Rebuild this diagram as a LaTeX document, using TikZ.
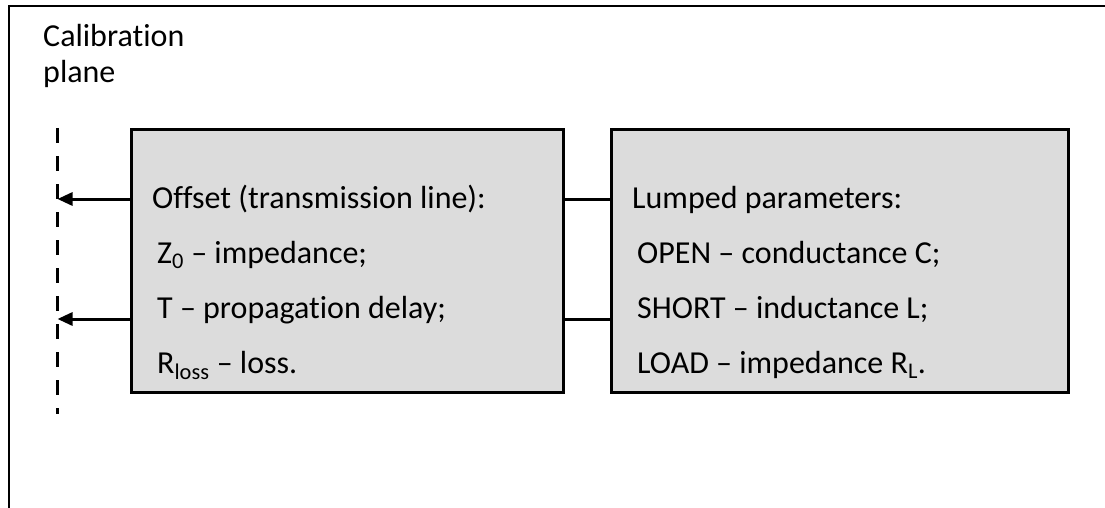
\documentclass[tikz,border=0pt]{standalone}
\usepackage{fontspec}
\setmainfont[Ligatures=NoCommon]{Carlito}
\usetikzlibrary{arrows.meta}
\definecolor{boxgray}{RGB}{220,220,220}
\begin{document}
\begin{tikzpicture}[x=1pt,y=-1pt,
  blockbox/.style={draw=black,line width=3pt,fill=boxgray,rectangle,inner sep=0pt,anchor=north west},
  txt/.style={inner sep=0pt,anchor=base west,font=\fontsize{32}{38}\selectfont},
  conn/.style={line width=3pt},
  arr/.style={line width=3pt,-{Triangle[length=15pt,width=13pt]}},
  plane/.style={line width=3pt,dash pattern=on 15pt off 13pt}]
\useasboundingbox (0,0) rectangle (1105,508);
% frame
\draw[line width=1.8pt] (1105,6) -- (9,6) -- (9,508);
% calibration plane label
\node[txt] (cal1) at (43,47) {Calibration};
\node[txt] (cal2) at (43,83) {plane};
% dashed plane
\coordinate (ptop) at (57.5,128);
\coordinate (pbot) at (57.5,414);
\draw[plane] (ptop) -- (pbot);
\coordinate (p1) at (57.5,199);
\coordinate (p2) at (57.5,319);
% boxes
\node[blockbox,minimum width=432pt,minimum height=262pt] (lb) at (129.5,128.5) {};
\node[blockbox,minimum width=457pt,minimum height=262pt] (rb) at (609.5,128.5) {};
% left texts
\node[txt] (l1) at (152,208) {Offset (transmission line):};
\node[txt] (l2) at (157,263) {Z\textsubscript{0} – impedance;};
\node[txt] (l3) at (157,318) {T – propagation delay;};
\node[txt] (l4) at (157,373) {R\textsubscript{loss} – loss.};
% right texts
\node[txt] (r1) at (632,208) {Lumped parameters:};
\node[txt] (r2) at (637,263) {OPEN – conductance C;};
\node[txt] (r3) at (637,318) {SHORT – inductance L;};
\node[txt] (r4) at (637,373) {LOAD – impedance R\textsubscript{L}.};
% connectors
\draw[conn] (lb.east |- p1) -- (rb.west |- p1);
\draw[conn] (lb.east |- p2) -- (rb.west |- p2);
\draw[arr] (lb.west |- p1) -- (p1);
\draw[arr] (lb.west |- p2) -- (p2);
\end{tikzpicture}
\end{document}
